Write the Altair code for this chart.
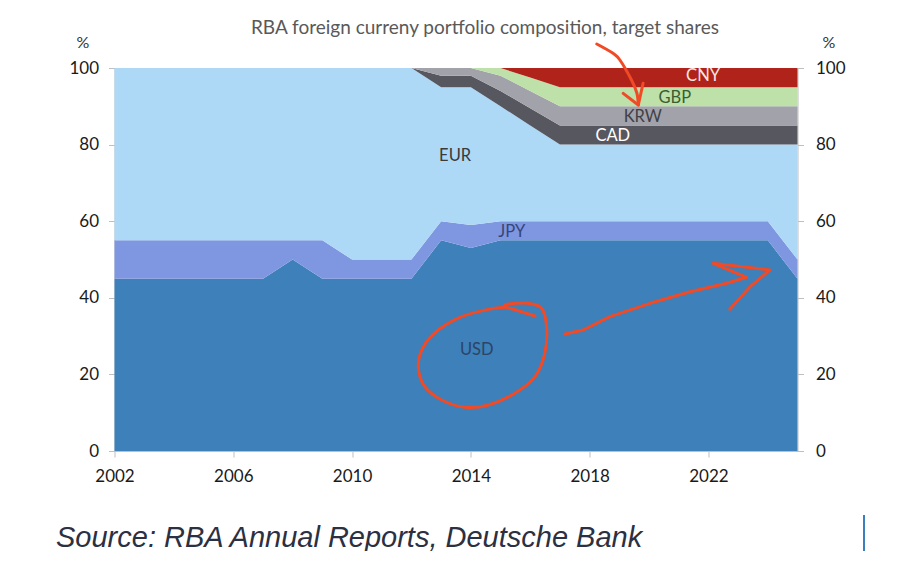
import altair as alt
import pandas as pd

years = list(range(2002, 2026))
series = ["USD", "JPY", "EUR", "CAD", "KRW", "GBP", "CNY"]
colors = ["#3D80BA", "#7F96E1", "#ADD9F6", "#575760", "#A2A2AA", "#BDE1A9", "#B0231A"]

USD = [45, 45, 45, 45, 45, 45, 50, 45, 45, 45, 45, 55, 53, 55, 55, 55, 55, 55, 55, 55, 55, 55, 55, 45]
JPY = [10, 10, 10, 10, 10, 10, 5, 10, 5, 5, 5, 5, 6, 5, 5, 5, 5, 5, 5, 5, 5, 5, 5, 5]
CAD = [0, 0, 0, 0, 0, 0, 0, 0, 0, 0, 0, 3, 3, 4, 4.5, 5, 5, 5, 5, 5, 5, 5, 5, 5]
KRW = [0, 0, 0, 0, 0, 0, 0, 0, 0, 0, 0, 2, 2, 4, 4.5, 5, 5, 5, 5, 5, 5, 5, 5, 5]
GBP = [0, 0, 0, 0, 0, 0, 0, 0, 0, 0, 0, 0, 0, 2, 3.5, 5, 5, 5, 5, 5, 5, 5, 5, 5]
CNY = [0, 0, 0, 0, 0, 0, 0, 0, 0, 0, 0, 0, 0, 0, 2.5, 5, 5, 5, 5, 5, 5, 5, 5, 5]
EUR = [100 - (a + b + c + d + e + f) for a, b, c, d, e, f in zip(USD, JPY, CAD, KRW, GBP, CNY)]

values = {"USD": USD, "JPY": JPY, "EUR": EUR, "CAD": CAD, "KRW": KRW, "GBP": GBP, "CNY": CNY}

# in-chart series labels (year, percent)
label_text = ["EUR", "JPY", "USD", "CAD", "KRW", "GBP", "CNY"]
label_x = [2013.47, 2015.38, 2014.2, 2018.78, 2019.79, 2020.87, 2021.82]
label_y = [77.0, 57.2, 26.4, 82.3, 87.3, 92.2, 97.9]
label_color = ["#3A3A3A", "#34467A", "#2C4466", "#FFFFFF", "#404048", "#3A5E32", "#F8E6E4"]

# hand-drawn red annotations (year, percent)
circle_x = [2016.16, 2015.60, 2015.15, 2015.26, 2015.93, 2016.38, 2016.55, 2016.49, 2016.16, 2015.48,
            2014.59, 2013.80, 2013.02, 2012.45, 2012.23, 2012.40, 2012.90, 2013.69, 2014.59, 2015.15]
circle_y = [35.25, 36.63, 37.68, 38.38, 38.56, 37.26, 32.45, 25.51, 19.40, 15.07,
            12.01, 11.41, 13.32, 16.79, 22.01, 27.23, 31.59, 35.07, 37.00, 37.52]
arrow2_x = [2017.17, 2017.78, 2018.68, 2020.03, 2021.38, 2022.61, 2023.29, 2022.16, 2024.07, 2023.40, 2022.72]
arrow2_y = [30.55, 31.59, 35.07, 38.56, 41.59, 43.79, 45.35, 49.01, 47.26, 42.90, 37.00]
shaft1_x = [2018.24, 2018.79, 2019.02, 2019.41, 2019.59, 2019.64]
shaft1_y = [106.27, 103.84, 102.09, 96.87, 93.47, 90.34]
head1_x = [2019.13, 2019.64, 2019.80]
head1_y = [93.39, 90.34, 96.01]

rows = []
for k, s in enumerate(series):
    for y, v in zip(years, values[s]):
        rows.append({"year": y, "series": s, "value": v, "k": k})
df = pd.DataFrame(rows)

labels_df = pd.DataFrame({"t": label_text, "x": label_x, "y": label_y, "c": label_color})


def path_df(xs, ys):
    return pd.DataFrame({"i": list(range(len(xs))), "x": xs, "y": ys})


FONT = "Lato"
xscale = alt.Scale(domain=[2002, 2025], nice=False, zero=False)
yscale = alt.Scale(domain=[0, 100], nice=False)

xaxis = alt.Axis(
    values=[2002, 2006, 2010, 2014, 2018, 2022], format="d", grid=False, labelFlush=False,
    labelFont=FONT, labelFontSize=17, labelColor="#1A1A1A", labelPadding=11,
    domainColor="#BFBFBF", tickColor="#BFBFBF", tickSize=6,
    title="Source: RBA Annual Reports, Deutsche Bank", titleFont="Liberation Sans",
    titleFontStyle="italic", titleFontWeight="normal", titleFontSize=29, titleColor="#2B3042",
    titleAnchor="start", titleAlign="left", titleBaseline="alphabetic",
    titleX=-59, titleY=95,
)

left_axis = alt.Axis(
    values=[0, 20, 40, 60, 80, 100], grid=False, orient="left", labelFlush=False,
    labelFont=FONT, labelFontSize=17, labelColor="#1A1A1A", labelPadding=10,
    domainColor="#BFBFBF", tickColor="#BFBFBF", tickSize=6,
    title="%", titleAngle=0, titleFont=FONT, titleFontSize=16, titleFontWeight="normal",
    titleColor="#333333", titleAlign="center", titleBaseline="middle", titleX=-32, titleY=-26,
)
right_axis = alt.Axis(
    values=[0, 20, 40, 60, 80, 100], grid=False, orient="right", labelFlush=False,
    labelFont=FONT, labelFontSize=17, labelColor="#1A1A1A", labelPadding=12,
    domainColor="#BFBFBF", tickColor="#BFBFBF", tickSize=6,
    title="%", titleAngle=0, titleFont=FONT, titleFontSize=16, titleFontWeight="normal",
    titleColor="#333333", titleAlign="center", titleBaseline="middle", titleX=31, titleY=-26,
)

X = alt.X("x:Q", scale=xscale, axis=xaxis)
Y = alt.Y("y:Q", scale=yscale, axis=None)

areas = alt.Chart(df).mark_area(interpolate="linear").encode(
    x=alt.X("year:Q", scale=xscale, axis=xaxis),
    y=alt.Y("value:Q", stack="zero", scale=yscale, axis=left_axis),
    color=alt.Color("series:N", scale=alt.Scale(domain=series, range=colors), legend=None),
    order=alt.Order("k:Q"),
)

right = alt.Chart(df).mark_point(opacity=0).encode(
    x=alt.X("year:Q", scale=xscale, axis=xaxis),
    y=alt.Y("value:Q", scale=yscale, axis=right_axis),
)

labels = alt.Chart(labels_df).mark_text(font=FONT, fontSize=16.5).encode(
    x=X, y=Y, text="t:N", color=alt.Color("c:N", scale=None),
)

red = dict(color="#F04A26", strokeWidth=3, clip=False, strokeCap="round", strokeJoin="round")

circle = alt.Chart(path_df(circle_x, circle_y)).mark_line(interpolate="cardinal", **red).encode(
    x=X, y=Y, order="i:Q"
)
arrow2 = alt.Chart(path_df(arrow2_x, arrow2_y)).mark_line(interpolate="linear", **red).encode(
    x=X, y=Y, order="i:Q"
)
shaft1 = alt.Chart(path_df(shaft1_x, shaft1_y)).mark_line(interpolate="cardinal", **red).encode(
    x=X, y=Y, order="i:Q"
)
head1 = alt.Chart(path_df(head1_x, head1_y)).mark_line(interpolate="linear", **red).encode(
    x=X, y=Y, order="i:Q"
)

cursor = alt.Chart(pd.DataFrame({"a": [0]})).mark_rule(color="#3A7FC0", strokeWidth=2, clip=False).encode(
    x=alt.value(749.5), y=alt.value(447), y2=alt.value(500)
)

chart = alt.layer(areas, right, labels, circle, arrow2, shaft1, head1, cursor).resolve_scale(
    y="shared"
).resolve_axis(
    y="independent"
).properties(
    width=683, height=383,
    title=alt.TitleParams(
        "RBA foreign curreny portfolio composition, target shares",
        font=FONT, fontSize=19, fontWeight="normal", color="#595959",
        anchor="middle", dx=29, dy=10, offset=6,
    ),
    padding={"left": 106.5, "top": 60, "right": 80, "bottom": 100},
    autosize=alt.AutoSizeParams(type="none"),
).configure_view(stroke=None)

chart.save("out.html", embed_options={"renderer": "svg", "actions": False})
